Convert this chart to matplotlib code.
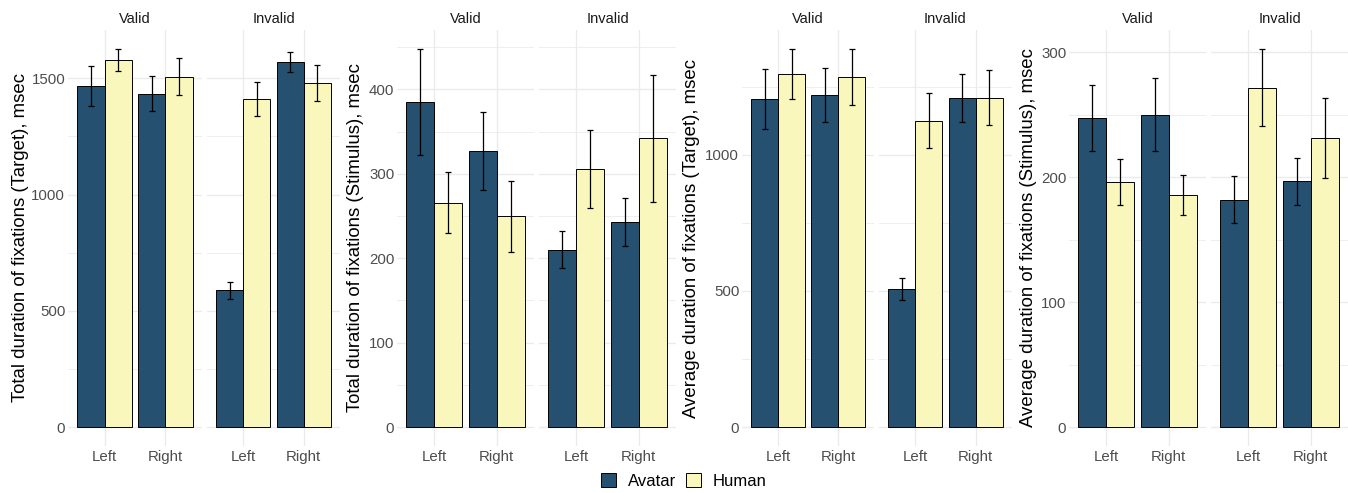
import numpy as np
import matplotlib
matplotlib.use("Agg")
import matplotlib.pyplot as plt
from matplotlib.patches import Patch
from matplotlib.ticker import MultipleLocator

plt.rcParams['font.family'] = ['Liberation Sans', 'DejaVu Sans']

# categories
conditions = ["Valid", "Invalid"]
sides = ["Left", "Right"]
groups = ["Avatar", "Human"]
colors = {"Avatar": "#25506F", "Human": "#FAF7BD"}

ylabels = [
    "Total duration of fixations (Target), msec",
    "Total duration of fixations (Stimulus), msec",
    "Average duration of fixations (Target), msec",
    "Average duration of fixations (Stimulus), msec",
]

# means: [condition][side] for each group
tot_target_avatar = [[1467, 1434], [588, 1568]]
tot_target_human = [[1579, 1507], [1411, 1480]]
tot_target_avatar_err = [[85, 75], [36, 43]]
tot_target_human_err = [[47, 80], [73, 77]]

tot_stim_avatar = [[385, 327], [210, 243]]
tot_stim_human = [[266, 250], [306, 342]]
tot_stim_avatar_err = [[63, 46], [22, 28]]
tot_stim_human_err = [[36, 42], [46, 75]]

avg_target_avatar = [[1204, 1220], [507, 1209]]
avg_target_human = [[1297, 1286], [1126, 1209]]
avg_target_avatar_err = [[110, 99], [42, 88]]
avg_target_human_err = [[92, 103], [102, 101]]

avg_stim_avatar = [[247, 250], [182, 196.5]]
avg_stim_human = [[196, 186], [271.5, 231.5]]
avg_stim_avatar_err = [[26.5, 29.5], [19, 19]]
avg_stim_human_err = [[18.5, 16], [31, 32]]

panels = [
    (tot_target_avatar, tot_target_avatar_err, tot_target_human, tot_target_human_err, 500),
    (tot_stim_avatar, tot_stim_avatar_err, tot_stim_human, tot_stim_human_err, 100),
    (avg_target_avatar, avg_target_avatar_err, avg_target_human, avg_target_human_err, 500),
    (avg_stim_avatar, avg_stim_avatar_err, avg_stim_human, avg_stim_human_err, 100),
]

W, H = 1348, 493
fig = plt.figure(figsize=(W / 100, H / 100), dpi=100)

# facet pixel extents (left, right) for each panel
facet_px = [
    [(68, 202), (207, 340)],
    [(397, 534), (539, 676)],
    [(742, 874), (879, 1012)],
    [(1069, 1206), (1211, 1348)],
]
ylabel_x = [29, 364, 700, 1037]
top_px, bot_px = 30, 446

grid_col = "#EBEBEB"
bar_w = 0.45

for p, (av, av_e, hu, hu_e, step) in enumerate(panels):
    tops = np.concatenate([np.array(av) + np.array(av_e), np.array(hu) + np.array(hu_e)]).ravel()
    ymax = tops.max()
    ylim = (-0.05 * ymax, 1.05 * ymax)
    for c, cond in enumerate(conditions):
        l, r = facet_px[p][c]
        ax = fig.add_axes([l / W, 1 - bot_px / H, (r - l) / W, (bot_px - top_px) / H])
        x = np.arange(1, len(sides) + 1)
        for g, (vals, errs) in enumerate([(av[c], av_e[c]), (hu[c], hu_e[c])]):
            xs = x + (g - 0.5) * bar_w
            ax.bar(xs, vals, width=bar_w, color=colors[groups[g]], edgecolor="black",
                   linewidth=0.7, zorder=2)
            ax.errorbar(xs, vals, yerr=errs, fmt="none", ecolor="black", elinewidth=0.9,
                        capsize=2.5, capthick=0.9, zorder=3)
        ax.set_xlim(0.4, 2.6)
        ax.set_ylim(*ylim)
        ax.set_xticks(x)
        ax.set_xticklabels(sides)
        ax.yaxis.set_major_locator(MultipleLocator(step))
        ax.yaxis.set_minor_locator(MultipleLocator(step / 2))
        ax.grid(True, which="major", color=grid_col, linewidth=1.0, zorder=0)
        ax.grid(True, which="minor", axis="y", color=grid_col, linewidth=0.6, zorder=0)
        ax.set_axisbelow(True)
        for s in ax.spines.values():
            s.set_visible(False)
        ax.tick_params(which="both", length=0, labelsize=10.8, labelcolor="#4D4D4D", pad=3)
        ax.tick_params(axis="y", pad=2)
        ax.set_title(cond, fontsize=10.5, color="#1A1A1A", pad=5)
        if c == 0:
            ax.set_ylabel(ylabels[p], fontsize=13.4, color="black")
            ax.yaxis.set_label_coords(ylabel_x[p] / W, 1 - (top_px + bot_px) / 2 / H,
                                      transform=fig.transFigure)
        else:
            ax.tick_params(axis="y", labelleft=False)

handles = [Patch(facecolor=colors[g], edgecolor="black", linewidth=0.7, label=g) for g in groups]
fig.legend(handles=handles, loc="center", bbox_to_anchor=(684 / W, 1 - 481 / H), ncol=2,
           frameon=False, fontsize=12, handlelength=0.9, handleheight=0.9,
           handletextpad=0.7, columnspacing=0.6)

fig.savefig("out.png", dpi=100)
